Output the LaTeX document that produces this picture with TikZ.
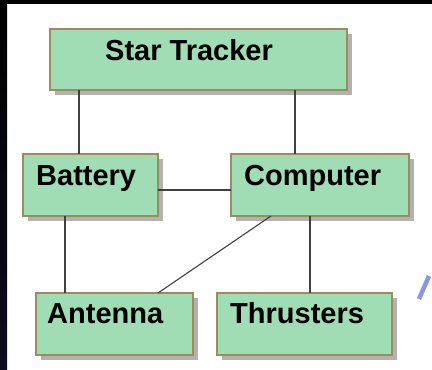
\documentclass[tikz,border=0pt]{standalone}
\usepackage{fontspec}
\setmainfont{Liberation Sans}
\usetikzlibrary{calc,shadows}
\definecolor{boxfill}{RGB}{160,220,180}
\definecolor{boxedge}{RGB}{156,140,92}
\definecolor{shadowgray}{RGB}{178,178,178}
\definecolor{linkgray}{RGB}{64,64,64}
\definecolor{accentblue}{RGB}{140,150,230}
\definecolor{edgenavy}{RGB}{12,12,30}
\begin{document}
\begin{tikzpicture}[x=1pt,y=-1pt,
  unit/.style={draw=boxedge, line width=1.5pt, fill=boxfill, rectangle,
    inner sep=0pt, outer sep=0pt, anchor=north west,
    drop shadow={shadow xshift=5pt, shadow yshift=-5pt, fill=shadowgray, opacity=1}},
  caption/.style={font=\fontsize{29}{29}\selectfont\bfseries, inner sep=0pt, anchor=base west},
  link/.style={draw=linkgray, line width=1.1pt}]
  \useasboundingbox (0,0) rectangle (432,370);
  \fill[white] (0,0) rectangle (432,370);
  % dark slide edges
  \fill[black] (0,0) rectangle (432,4);
  \shade[top color=black, bottom color=edgenavy] (0,0) rectangle (7,370);
  % accent stroke
  \draw[accentblue, line width=4.5pt] (419,299) -- (429,276);

  % subsystem boxes
  \node[unit, minimum width=297pt, minimum height=61pt] (st)  at (50,29)  {};
  \node[unit, minimum width=135pt, minimum height=62pt] (bat) at (23,154) {};
  \node[unit, minimum width=178pt, minimum height=62pt] (cmp) at (231,154) {};
  \node[unit, minimum width=157pt, minimum height=62pt] (ant) at (36,293) {};
  \node[unit, minimum width=175pt, minimum height=62pt] (thr) at (217,293) {};

  % box captions
  \node[caption] (st-t)  at (105,60.5) {Star Tracker};
  \node[caption] (bat-t) at (36,185)   {Battery};
  \node[caption] (cmp-t) at (244,185)  {Computer};
  \node[caption] (ant-t) at (47,323)   {Antenna};
  \node[caption] (thr-t) at (230,323)  {Thrusters};

  % links between subsystems
  \draw[link] ($(st.south west)+(29,0)$)  -- ($(bat.north west)+(56,0)$);
  \draw[link] ($(st.south west)+(245,0)$) -- ($(cmp.north west)+(64,0)$);
  \draw[link] ($(bat.north east)+(0,36)$) -- ($(cmp.north west)+(0,36)$);
  \draw[link] ($(bat.south west)+(42,0)$) -- ($(ant.north west)+(29,0)$);
  \draw[link] ($(cmp.south west)+(40,0)$) -- ($(ant.north west)+(122,0)$);
  \draw[link] ($(cmp.south west)+(79,0)$) -- ($(thr.north west)+(93,0)$);
\end{tikzpicture}
\end{document}
